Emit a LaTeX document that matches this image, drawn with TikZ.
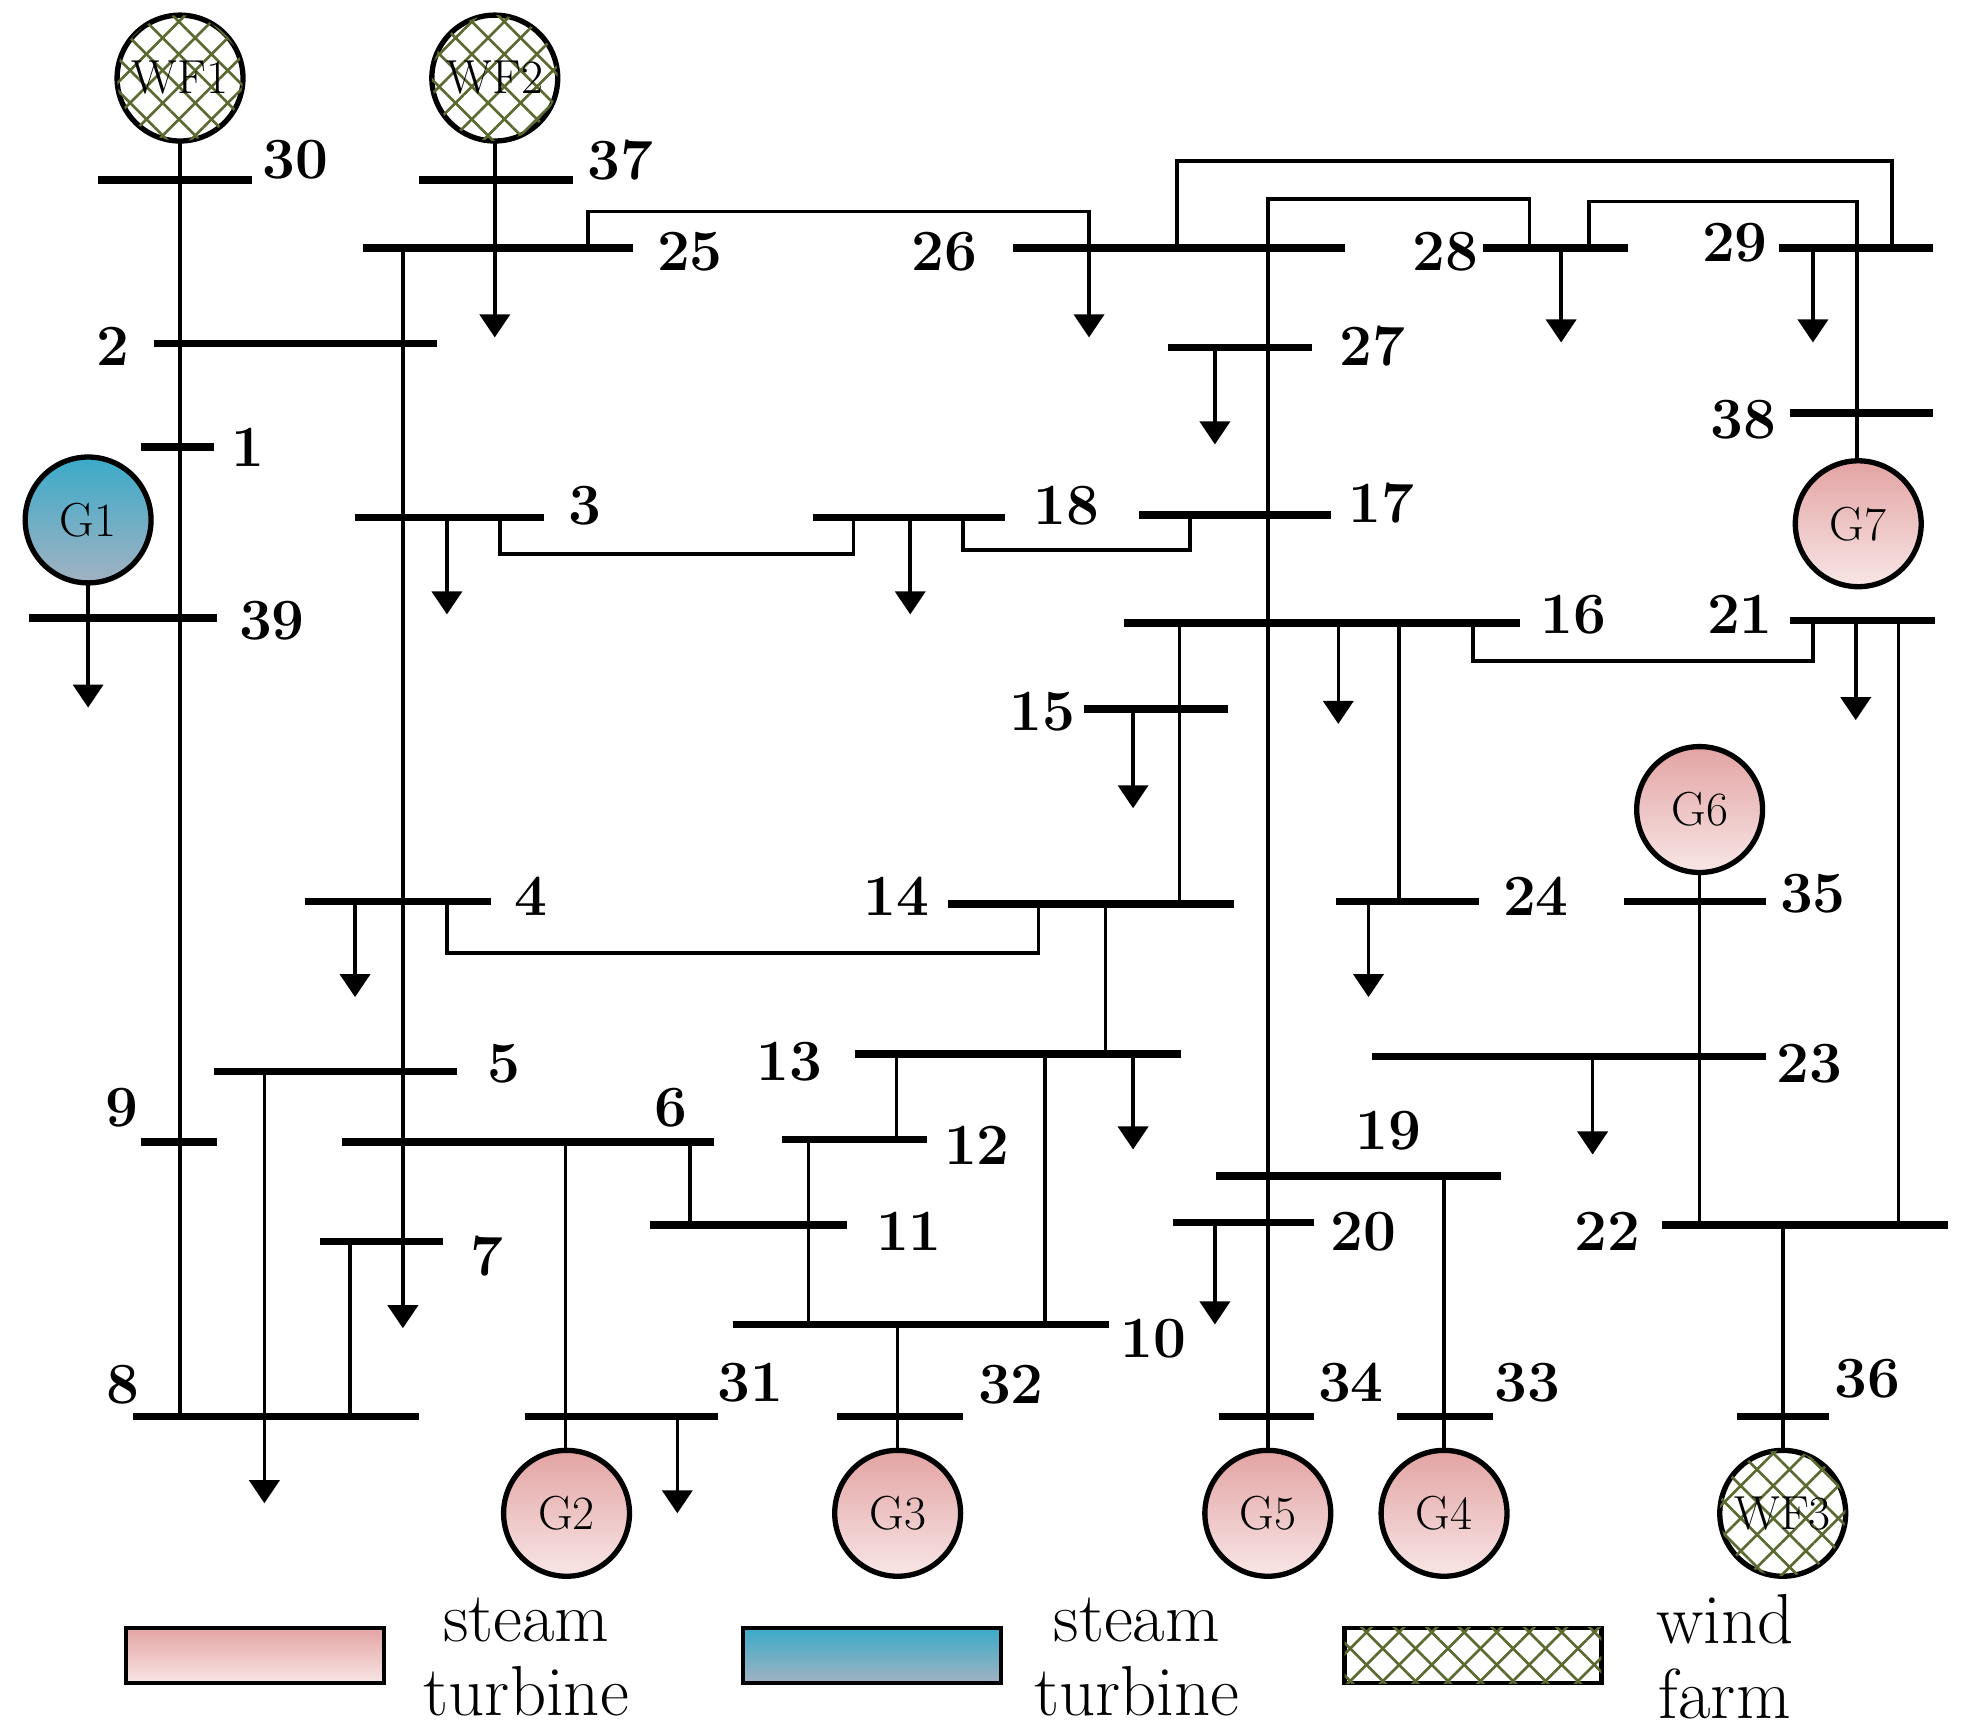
\documentclass[tikz,border=0pt]{standalone}
\usetikzlibrary{arrows.meta,patterns.meta}
\definecolor{pktop}{HTML}{E3A3A3}
\definecolor{pkbot}{HTML}{F8E6E6}
\definecolor{bltop}{HTML}{3AAAC8}
\definecolor{blbot}{HTML}{A2B2C2}
\definecolor{hatch}{HTML}{5A6A30}
\begin{document}
\begin{tikzpicture}[x=0.05cm,y=-0.05cm,
 bus/.style={line width=8.5pt},
 ln/.style={line width=4pt},
 ld/.style={line width=4pt,-{Triangle[width=34pt,length=26pt]}},
 lb/.style={font=\fontsize{66}{70}\selectfont\bfseries},
 gen/.style={circle,draw,line width=6pt,inner sep=0,font=\fontsize{54}{60}\selectfont},
 pk/.style={top color=pktop,bottom color=pkbot},
 bl/.style={top color=bltop,bottom color=blbot},
 wf/.style={fill=white,postaction={pattern={Lines[angle=45,distance=26pt,line width=3pt]},pattern color=hatch},
   postaction={pattern={Lines[angle=-45,distance=26pt,line width=3pt]},pattern color=hatch}},
 lg/.style={font=\fontsize{80}{84}\selectfont,align=center}]
\useasboundingbox (0,0) rectangle (1560,1374);
\tikzset{gs/.style={gen,minimum size=100*0.05cm}}
% vertical lines
\draw[ln] (143,112)--(143,1125);
\draw[ld] (320,197)--(320,1055);
\draw[ld] (393,112)--(393,268);
\draw[ln] (467,197)--(467,168)--(865,168)--(865,197);
\draw[ld] (865,197)--(865,268);
\draw[ln] (935,197)--(935,128)--(1503,128)--(1503,197);
\draw[ln] (1215,197)--(1215,158)--(1007,158)--(1007,1152);
\draw[ln] (1262,197)--(1262,160)--(1475,160)--(1475,366);
\draw[ld] (1240,197)--(1240,272);
\draw[ld] (1440,197)--(1440,272);
\draw[ld] (965,276)--(965,353);
\draw[ld] (355,411)--(355,488);
\draw[ld] (723,411)--(723,488);
\draw[ld] (70,463)--(70,562);
\draw[ln] (397,411)--(397,440)--(678,440)--(678,411);
\draw[ln] (765,411)--(765,437)--(945,437)--(945,409);
\draw[ln] (1170,495)--(1170,525)--(1440,525)--(1440,493);
\draw[ld] (1063,495)--(1063,575);
\draw[ld] (1474,493)--(1474,572);
\draw[ld] (900,563)--(900,642);
\draw[ln] (937,495)--(937,718);
\draw[ln] (1111,495)--(1111,716);
\draw[ln] (1508,493)--(1508,973);
\draw[ld] (282,716)--(282,792);
\draw[ld] (1087,716)--(1087,792);
\draw[ln] (355,716)--(355,757)--(825,757)--(825,718);
\draw[ln] (878,718)--(878,837);
\draw[ld] (900,837)--(900,913);
\draw[ld] (1265,839)--(1265,917);
\draw[ln] (712,837)--(712,905);
\draw[ln] (830,837)--(830,1052);
\draw[ln] (642,905)--(642,1052);
\draw[ln] (548,907)--(548,973);
\draw[ln] (449,907)--(449,1152);
\draw[ln] (278,986)--(278,1125);
\draw[ld] (210,851)--(210,1194);
\draw[ld] (538,1125)--(538,1202);
\draw[ld] (965,971)--(965,1052);
\draw[ln] (713,1052)--(713,1152);
\draw[ln] (1147,934)--(1147,1152);
\draw[ln] (1350,693)--(1350,973);
\draw[ln] (1416,973)--(1416,1152);
% buses
\foreach \y/\a/\b/\n/\lx/\ly in {143/78/200/30/235/127, 143/333/455/37/493/127,
 197/288/503/25/548/200, 197/805/1068/26/750/200, 197/1178/1293/28/1148/200,
 197/1413/1535/29/1378/193, 273/122/347/2/90/275, 355/112/170/1/197/355,
 491/23/172/39/216/493, 276/928/1042/27/1090/275, 328/1422/1535/38/1385/333,
 411/282/432/3/465/402, 411/646/798/18/847/402, 409/905/1057/17/1097/400,
 495/893/1207/16/1250/488, 493/1422/1537/21/1382/488, 563/861/975/15/828/565,
 716/242/390/4/422/712, 718/753/980/14/712/712, 716/1061/1175/24/1220/712,
 716/1290/1403/35/1440/710, 851/170/363/5/400/845, 837/679/938/13/627/843,
 839/1090/1403/23/1437/845, 907/112/172/9/97/880, 907/272/567/6/533/880,
 905/621/736/12/776/910, 934/966/1192/19/1103/898, 973/516/673/11/722/978,
 971/932/1044/20/1083/978, 973/1320/1547/22/1277/978, 986/254/352/7/387/998,
 1052/582/881/10/916/1063, 1125/106/333/8/98/1100, 1125/417/570/31/596/1098,
 1125/665/765/32/803/1100, 1125/968/1044/34/1073/1098, 1125/1110/1186/33/1213/1098,
 1125/1380/1453/36/1483/1095}
 {\draw[bus] (\a,\y)--(\b,\y); \node[lb] (L\n) at (\lx,\ly) {\n};}
% generators
\node[gs,wf] (WF1) at (143,62) {WF1};
\node[gs,wf] (WF2) at (393,62) {WF2};
\node[gs,wf] (WF3) at (1416,1202) {WF3};
\node[gs,bl] (G1) at (70,413) {G1};
\node[gs,pk] (G7) at (1476,416) {G7};
\node[gs,pk] (G6) at (1350,643) {G6};
\node[gs,pk] (G2) at (450,1202) {G2};
\node[gs,pk] (G3) at (713,1202) {G3};
\node[gs,pk] (G5) at (1007,1202) {G5};
\node[gs,pk] (G4) at (1147,1202) {G4};
% legend
\draw[line width=5pt,pk] (100,1293) rectangle (305,1337);
\draw[line width=5pt,bl] (590,1293) rectangle (795,1337);
\draw[line width=5pt,wf] (1068,1293) rectangle (1272,1337);
\node[lg] (t1) at (418,1316) {steam\\turbine};
\node[lg] (t2) at (903,1316) {steam\\turbine};
\node[lg] (t3) at (1370,1316) {wind\\farm};
\end{tikzpicture}
\end{document}
